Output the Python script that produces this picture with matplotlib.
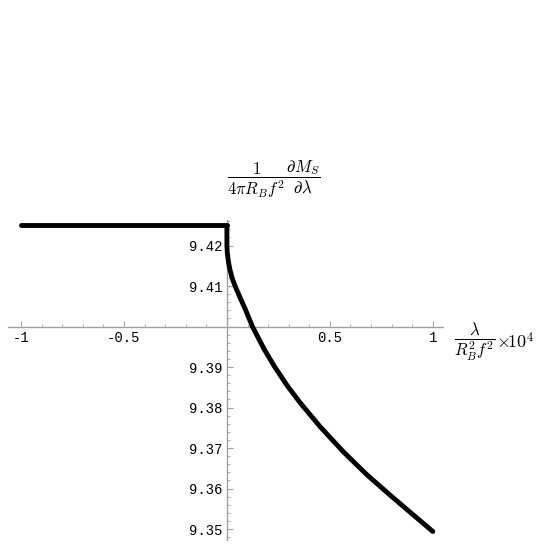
import matplotlib
matplotlib.use('Agg')
import matplotlib.pyplot as plt
from matplotlib.ticker import MultipleLocator, FixedLocator

# flat branch (lambda < 0)
x_flat = [-1.0, 0.0]
y_flat = [9.4250, 9.4250]

# decreasing branch (lambda > 0)
x_curve = [0.0, 0.0, 0.002, 0.008, 0.015, 0.027, 0.04, 0.055, 0.068, 0.09,
           0.124, 0.18, 0.229, 0.293, 0.357, 0.454, 0.567, 0.68, 0.792,
           0.905, 1.0]
y_curve = [9.4250, 9.4200, 9.4181, 9.4158, 9.4140, 9.4117, 9.4100, 9.4082,
           9.4067, 9.4042, 9.4000, 9.3945, 9.3903, 9.3854, 9.3811, 9.3752,
           9.3690, 9.3634, 9.3584, 9.3535, 9.3494]

x_ticks = [-1, -0.5, 0.5, 1]
x_tick_labels = ['-1', '-0.5', '0.5', '1']
y_ticks = [9.35, 9.36, 9.37, 9.38, 9.39, 9.41, 9.42]
y_tick_labels = ['9.35', '9.36', '9.37', '9.38', '9.39', '9.41', '9.42']

plt.rcParams['mathtext.fontset'] = 'cm'

fig = plt.figure(figsize=(5.45, 5.45), dpi=100)
ax = fig.add_axes([0.0147, 0.0092, 0.798, 0.587])

ax.plot(x_flat, y_flat, color='black', lw=3.5, solid_capstyle='round',
        solid_joinstyle='round')
ax.plot(x_curve, y_curve, color='black', lw=3.5, solid_capstyle='round',
        solid_joinstyle='round')

ax.set_xlim(-1.063, 1.049)
ax.set_ylim(9.3473, 9.4263)

axis_color = '#a0a0a0'
ax.spines['left'].set_position(('data', 0))
ax.spines['bottom'].set_position(('data', 9.40))
ax.spines['right'].set_visible(False)
ax.spines['top'].set_visible(False)
for s in ('left', 'bottom'):
    ax.spines[s].set_color(axis_color)
    ax.spines[s].set_linewidth(1.0)
    ax.spines[s].set_zorder(0)

ax.xaxis.set_major_locator(FixedLocator(x_ticks))
ax.set_xticklabels(x_tick_labels)
ax.xaxis.set_minor_locator(MultipleLocator(0.1))
ax.yaxis.set_major_locator(FixedLocator(y_ticks))
ax.set_yticklabels(y_tick_labels)
ax.yaxis.set_minor_locator(MultipleLocator(0.002))

mono = 'Liberation Mono'
ax.tick_params(axis='x', which='major', direction='in', length=4, width=0.8,
               color=axis_color, pad=3, labelsize=10)
ax.tick_params(axis='x', which='minor', direction='in', length=2.5, width=0.6,
               color=axis_color)
ax.tick_params(axis='y', which='major', direction='in', length=4, width=0.8,
               color=axis_color, pad=3, labelsize=10)
ax.tick_params(axis='y', which='minor', direction='in', length=2.5, width=0.6,
               color=axis_color)
for lab in ax.get_xticklabels() + ax.get_yticklabels():
    lab.set_family(mono)

ax.text(0.0, 9.4364,
        r'$\dfrac{1}{4\pi R_B f^2}\dfrac{\partial M_S}{\partial\lambda}$',
        fontsize=12, ha='left', va='center')
ax.text(1.105, 9.3962, r'$\dfrac{\lambda}{R_B^2 f^2}$',
        fontsize=12, ha='left', va='center', clip_on=False)
ax.text(1.305, 9.3962, r'$\times\!10^4$',
        fontsize=13, ha='left', va='center', clip_on=False)

fig.savefig('out.png', dpi=100)
